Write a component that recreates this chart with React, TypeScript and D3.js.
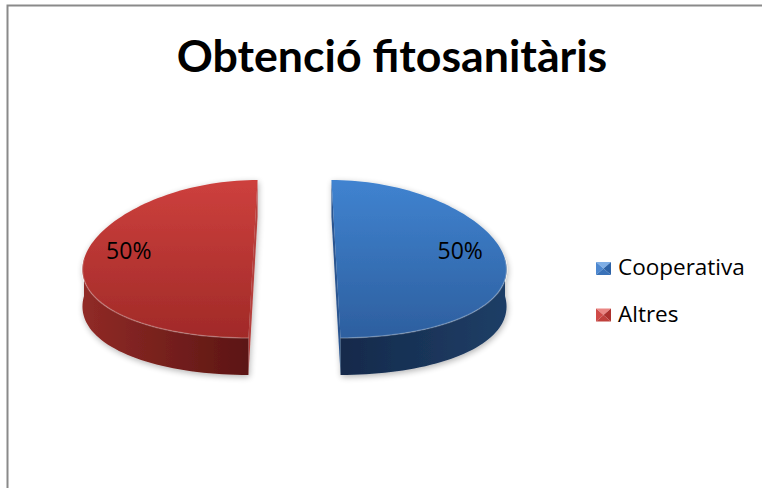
import React from 'react';
import * as d3 from 'd3';

// chart data
const title = 'Obtenció fitosanitàris';
const categories = ['Cooperativa', 'Altres'];
const values = [50, 50];

const topColors = [
  ['#4083d0', '#2d5f9f'],
  ['#cd403d', '#a12a28'],
];
const wallColors = [
  ['#13294a', '#1f3e66'],
  ['#5a1513', '#902a26'],
];
const faceColors = ['#2a5590', '#b5413e'];
const bevel = [
  ['#7eaee6', '#4d88d0', '#2d62a6', '#3a72b8'],
  ['#ea8683', '#d04b48', '#ac312e', '#c0403c'],
];

const width = 762;
const height = 488;
const cx = 294.5;
const cy = 259;
const R = 169;
const ry = 79;
const depth = 37;
const persp = 0.11;
const explode = 41.5;

const proj = (x: number, z: number, drop = 0): [number, number] => [
  cx + x * (1 + (persp * z) / R),
  cy + (z * ry) / R + drop,
];

const pie = d3
  .pie<number>()
  .sort(null)
  .value(d => d);

const fmt = d3.format('.0%');

function arcPts(ox: number, oz: number, a0: number, a1: number, drop: number) {
  const n = Math.max(2, Math.ceil(((a1 - a0) / Math.PI) * 90));
  const pts: [number, number][] = [];
  for (let i = 0; i <= n; i++) {
    const a = a0 + ((a1 - a0) * i) / n;
    pts.push(proj(ox + R * Math.sin(a), oz - R * Math.cos(a), drop));
  }
  return pts;
}

const toPath = (pts: [number, number][]) =>
  'M' + pts.map(p => p[0].toFixed(2) + ',' + p[1].toFixed(2)).join('L') + 'Z';

export default function App() {
  const arcs = pie(values);
  const total = d3.sum(values);

  const slices = arcs.map((a, i) => {
    const mid = (a.startAngle + a.endAngle) / 2;
    const ox = explode * Math.sin(mid);
    const oz = -explode * Math.cos(mid);
    const c = proj(ox, oz);
    const cb = proj(ox, oz, depth);
    const top = toPath([c, ...arcPts(ox, oz, a.startAngle, a.endAngle, 0)]);
    // visible outer wall is where the surface faces the viewer
    const w0 = Math.max(a.startAngle, Math.PI / 2);
    const w1 = Math.min(a.endAngle, (3 * Math.PI) / 2);
    let wall = '';
    let rim = '';
    if (w1 > w0) {
      const upper = arcPts(ox, oz, w0, w1, 0);
      const lower = arcPts(ox, oz, w0, w1, depth).reverse();
      wall = toPath([...upper, ...lower]);
      rim = 'M' + upper.map(p => p[0].toFixed(2) + ',' + p[1].toFixed(2)).join('L');
    }
    const faces = [a.startAngle, a.endAngle].map(ang => {
      const e = proj(ox + R * Math.sin(ang), oz - R * Math.cos(ang));
      const eb = proj(ox + R * Math.sin(ang), oz - R * Math.cos(ang), depth);
      return toPath([c, e, eb, cb]);
    });
    const lp = proj(ox + 0.735 * R * Math.sin(mid), oz - 0.735 * R * Math.cos(mid));
    const outerX = proj(ox + R * Math.sin(mid), 0)[0];
    return { i, top, wall, rim, faces, lp, c, outerX, label: fmt(values[i] / total) };
  });

  const font = '"Open Sans", sans-serif';

  return (
    <svg width={width} height={height} style={{ position: 'absolute', left: 0, top: 0 }}>
      <defs>
        <filter id="shadow" x="-20%" y="-20%" width="140%" height="140%">
          <feGaussianBlur in="SourceAlpha" stdDeviation="3" />
          <feOffset dx="1" dy="2" result="b" />
          <feComponentTransfer>
            <feFuncA type="linear" slope="0.3" />
          </feComponentTransfer>
          <feMerge>
            <feMergeNode />
            <feMergeNode in="SourceGraphic" />
          </feMerge>
        </filter>
        {slices.map(s => (
          <React.Fragment key={s.i}>
            <linearGradient id={'top' + s.i} x1="0" y1="0" x2="0" y2="1">
              <stop offset="0" stopColor={topColors[s.i][0]} />
              <stop offset="1" stopColor={topColors[s.i][1]} />
            </linearGradient>
            <linearGradient
              id={'wall' + s.i}
              gradientUnits="userSpaceOnUse"
              x1={s.c[0]}
              y1="0"
              x2={s.outerX}
              y2="0"
            >
              <stop offset="0" stopColor={wallColors[s.i][0]} />
              <stop offset="1" stopColor={wallColors[s.i][1]} />
            </linearGradient>
          </React.Fragment>
        ))}
      </defs>
      <rect x={0} y={0} width={width} height={height} fill="#fff" />
      <path d="M7.5,488V5.5H762" fill="none" stroke="#8a8a8a" strokeWidth={2} />
      <text
        x={392}
        y={72}
        textAnchor="middle"
        fontFamily='Lato, "Open Sans", sans-serif'
        fontWeight="bold"
        fontSize={44.7}
        fill="#000"
      >
        {title}
      </text>
      {slices.map(s => (
        <g key={s.i} filter="url(#shadow)">
          {s.faces.map((f, k) => (
            <path key={k} d={f} fill={faceColors[s.i]} />
          ))}
          {s.wall && <path d={s.wall} fill={`url(#wall${s.i})`} />}
          <path d={s.top} fill={`url(#top${s.i})`} />
          {s.rim && (
            <path d={s.rim} fill="none" stroke="#ffffff" strokeOpacity={0.25} strokeWidth={1.5} />
          )}
        </g>
      ))}
      {slices.map(s => (
        <text
          key={s.i}
          x={s.lp[0]}
          y={s.lp[1]}
          textAnchor="middle"
          fontFamily={font}
          fontSize={23}
          fill="#000"
        >
          {s.label}
        </text>
      ))}
      {categories.map((c, i) => {
        const x = 596;
        const y = 262 + i * 46.5;
        const w = 15;
        const h = 13;
        const ctr = [x + w / 2, y + h / 2];
        return (
          <g key={c}>
            <polygon points={`${x},${y} ${x + w},${y} ${ctr[0]},${ctr[1]}`} fill={bevel[i][0]} />
            <polygon points={`${x},${y} ${ctr[0]},${ctr[1]} ${x},${y + h}`} fill={bevel[i][1]} />
            <polygon points={`${x + w},${y} ${x + w},${y + h} ${ctr[0]},${ctr[1]}`} fill={bevel[i][2]} />
            <polygon points={`${x},${y + h} ${ctr[0]},${ctr[1]} ${x + w},${y + h}`} fill={bevel[i][3]} />
            <text x={618} y={y + 13} fontFamily={font} fontSize={22.5} fill="#000">
              {c}
            </text>
          </g>
        );
      })}
    </svg>
  );
}
